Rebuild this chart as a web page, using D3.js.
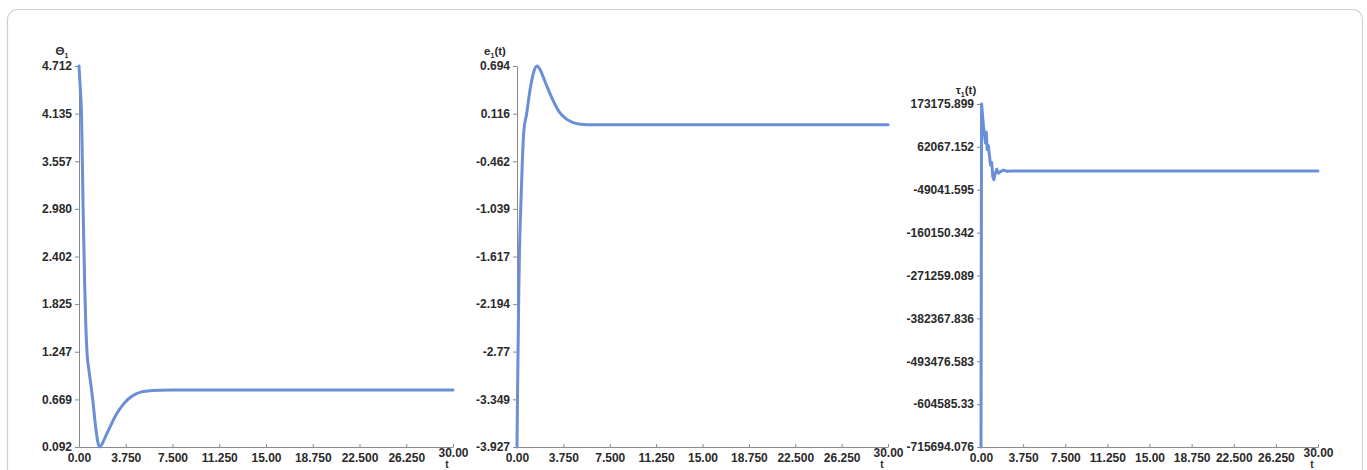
<!DOCTYPE html>
<html>
<head>
<meta charset="utf-8">
<script src="https://cdn.jsdelivr.net/npm/d3@7"></script>
<style>
  html, body { margin: 0; padding: 0; background: #fff; }
  svg { display: block; }
  text { font-family: "Liberation Sans", Arial, sans-serif; font-weight: bold; fill: #2a2a2a; }
</style>
</head>
<body>
<svg id="chart" width="1367" height="470"></svg>
<script>
// Shared time axis labels
const xTickLabels = ["0.00", "3.750", "7.500", "11.250", "15.00", "18.750", "22.500", "26.250", "30.00"];

// Joint angle θ1 over time
const thetaTime = [0, 0.1, 0.2, 0.33, 0.45, 0.55, 0.65, 0.8, 0.95, 1.1, 1.3, 1.5, 1.63, 1.8, 2.1, 2.5, 3.0, 3.5, 4.0, 4.5, 5.0, 5.5, 6.5, 7.5, 10, 15, 20, 25, 30];
const thetaValues = [4.712, 4.45, 4.135, 2.98, 2.1, 1.55, 1.22, 1.02, 0.85, 0.67, 0.38, 0.16, 0.092, 0.115, 0.21, 0.34, 0.49, 0.6, 0.68, 0.73, 0.76, 0.772, 0.78, 0.782, 0.782, 0.782, 0.782, 0.782, 0.782];
const thetaTickLabels = ["0.092", "0.669", "1.247", "1.825", "2.402", "2.980", "3.557", "4.135", "4.712"];

// Tracking error e1 over time
const errTime = [0, 0.05, 0.1, 0.15, 0.2, 0.3, 0.43, 0.55, 0.78, 1.05, 1.35, 1.62, 1.9, 2.2, 2.5, 3.0, 3.4, 4.0, 4.5, 5.0, 5.7, 7, 10, 15, 20, 25, 30];
const errValues = [-3.927, -3.2, -2.6, -2.0, -1.55, -1.04, -0.47, -0.1, 0.116, 0.4, 0.62, 0.694, 0.64, 0.53, 0.42, 0.25, 0.14, 0.05, 0.01, -0.01, -0.018, -0.018, -0.018, -0.018, -0.018, -0.018, -0.018];
const errTickLabels = ["-3.927", "-3.349", "-2.77", "-2.194", "-1.617", "-1.039", "-0.462", "0.116", "0.694"];

// Control torque τ1 over time
const tauTime = [0, 0.05, 0.12, 0.22, 0.3, 0.4, 0.47, 0.55, 0.65, 0.75, 0.85, 0.95, 1.05, 1.15, 1.25, 1.4, 1.55, 1.75, 2.0, 2.3, 2.7, 5, 10, 15, 20, 25, 30];
const tauValues = [-715694.076, 173175.899, 150000, 115000, 95000, 72000, 100000, 55000, 66000, 40000, 15000, 22000, -15000, -23000, -8000, 4000, -6000, -2000, 2000, -1000, -500, -500, -500, -500, -500, -500, -500];
const tauTickLabels = ["-715694.076", "-604585.33", "-493476.583", "-382367.836", "-271259.089", "-160150.342", "-49041.595", "62067.152", "173175.899"];

const svg = d3.select("#chart");
const lineColor = "#6a8fd6";
const axisColor = "#8a8a8a";

// Outer frame
svg.append("rect")
  .attr("x", 7.5).attr("y", 9.5)
  .attr("width", 1355).attr("height", 490)
  .attr("rx", 10).attr("ry", 10)
  .attr("fill", "none").attr("stroke", "#cfcfcf").attr("stroke-width", 1.2);

function drawPanel(cfg) {
  const g = svg.append("g");
  const yTicks = cfg.yLabels.map(Number);
  const xTicks = xTickLabels.map(Number);

  const x = d3.scaleLinear().domain([0, 30]).range([cfg.left, cfg.right]);
  const y = d3.scaleLinear().domain(d3.extent(yTicks)).range([cfg.bottom, cfg.top]);

  // Y axis
  const yAxis = d3.axisLeft(y)
    .tickValues(yTicks)
    .tickFormat((d, i) => cfg.yLabels[i])
    .tickSize(4).tickPadding(3).tickSizeOuter(0);
  const ya = g.append("g").attr("transform", `translate(${cfg.left},0)`).call(yAxis);
  ya.select(".domain").attr("stroke", axisColor);
  ya.selectAll(".tick line").attr("stroke", axisColor);
  ya.selectAll(".tick text").attr("font-size", 12).attr("fill", "#2a2a2a")
    .attr("font-family", "Liberation Sans, Arial, sans-serif").attr("font-weight", "bold");

  // X axis
  const xAxis = d3.axisBottom(x)
    .tickValues(xTicks)
    .tickFormat((d, i) => xTickLabels[i])
    .tickSize(-3).tickPadding(6).tickSizeOuter(0);
  const xa = g.append("g").attr("transform", `translate(0,${cfg.bottom})`).call(xAxis);
  xa.select(".domain").attr("stroke", axisColor);
  xa.selectAll(".tick line").attr("stroke", axisColor);
  xa.selectAll(".tick text").attr("font-size", 12).attr("fill", "#2a2a2a")
    .attr("font-family", "Liberation Sans, Arial, sans-serif").attr("font-weight", "bold")
    .attr("dy", (d, i) => i === xTicks.length - 1 ? "0.35em" : "0.71em");

  // Axis titles
  const title = g.append("text")
    .attr("x", cfg.titleX).attr("y", cfg.titleY)
    .attr("text-anchor", "middle").attr("font-size", 11.5);
  title.append("tspan").text(cfg.title[0]);
  title.append("tspan").attr("font-size", 7).attr("dy", 3).text(cfg.title[1]);
  if (cfg.title[2]) title.append("tspan").attr("dy", -3).text(cfg.title[2]);

  g.append("text")
    .attr("x", x(30) - 6).attr("y", cfg.bottom + 21)
    .attr("text-anchor", "middle").attr("font-size", 10).text("t");

  // Series line
  const pts = cfg.t.map((t, i) => [t, cfg.v[i]]);
  const line = d3.line()
    .x(d => x(d[0])).y(d => y(d[1]))
    .curve(cfg.curve);
  g.append("path")
    .datum(pts)
    .attr("d", line)
    .attr("fill", "none")
    .attr("stroke", lineColor)
    .attr("stroke-width", 3)
    .attr("stroke-linejoin", "round")
    .attr("stroke-linecap", "round");
}

drawPanel({
  left: 79, right: 453, top: 66, bottom: 447,
  yLabels: thetaTickLabels, t: thetaTime, v: thetaValues,
  title: ["Θ", "1"], titleX: 62, titleY: 55,
  curve: d3.curveMonotoneX
});

drawPanel({
  left: 517, right: 888, top: 66, bottom: 447,
  yLabels: errTickLabels, t: errTime, v: errValues,
  title: ["e", "1", "(t)"], titleX: 495, titleY: 55,
  curve: d3.curveMonotoneX
});

drawPanel({
  left: 981, right: 1318, top: 104, bottom: 447,
  yLabels: tauTickLabels, t: tauTime, v: tauValues,
  title: ["τ", "1", "(t)"], titleX: 966, titleY: 94,
  curve: d3.curveLinear
});
</script>
</body>
</html>
